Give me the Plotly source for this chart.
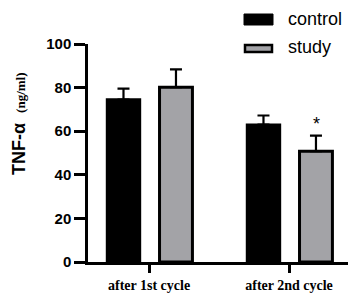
import plotly.graph_objects as go

categories = ["after 1st cycle", "after 2nd cycle"]
control = [74.5, 63.0]
control_err = [5.0, 4.2]
study = [80.2, 50.8]
study_err = [8.2, 7.2]
series_names = ["control", "study"]
y_ticks = [0, 20, 40, 60, 80, 100]

# page offset (default body margin) and plot area in screen pixels: x 88..353, y 44..262
OFF = 8
W, H = 356 - OFF, 298 - OFF
L, T = 88 - OFF, 44 - OFF
PW, PH = 353 - 88, 262 - 44
R, B = W - L - PW, H - T - PH


def px(x):
    return (x - OFF - L) / PW


def py(y):
    return (OFF + T + PH - y) / PH


fig = go.Figure()
fig.add_trace(go.Bar(
    x=categories, y=control, name=series_names[0],
    marker=dict(color="black", line=dict(color="black", width=2.5)),
    error_y=dict(type="data", array=control_err, arrayminus=[0, 0], symmetric=False,
                 color="black", thickness=2.2, width=6),
    width=0.235, offset=-0.30, showlegend=False,
))
fig.add_trace(go.Bar(
    x=categories, y=study, name=series_names[1],
    marker=dict(color="#a3a3a7", line=dict(color="black", width=3)),
    error_y=dict(type="data", array=study_err, arrayminus=[0, 0], symmetric=False,
                 color="black", thickness=2.2, width=6),
    width=0.235, offset=0.075, showlegend=False,
))

# significance marker
fig.add_annotation(x=categories[1], y=study[1] + study_err[1], xshift=27, yshift=12,
                   text="*", showarrow=False, font=dict(size=18, color="black", family="Arial"))

# legend (drawn)
fig.add_shape(type="rect", xref="paper", yref="paper",
              x0=px(244), x1=px(273), y0=py(25), y1=py(14),
              fillcolor="black", line=dict(color="black", width=1))
fig.add_shape(type="rect", xref="paper", yref="paper",
              x0=px(245), x1=px(272), y0=py(52), y1=py(45),
              fillcolor="#a3a3a7", line=dict(color="black", width=2.5))
fig.add_annotation(xref="paper", yref="paper", x=px(286), y=py(19), xanchor="left",
                   yanchor="middle", text=series_names[0], showarrow=False,
                   font=dict(family="Arial", size=18, color="black"))
fig.add_annotation(xref="paper", yref="paper", x=px(286), y=py(47), xanchor="left",
                   yanchor="middle", text=series_names[1], showarrow=False,
                   font=dict(family="Arial", size=18, color="black"))

# y axis title
fig.add_annotation(xref="paper", yref="paper", x=px(19), y=py(124), textangle=-90,
                   xanchor="center", yanchor="middle", showarrow=False,
                   text="<b>TNF-α</b>  <span style='font-size:13px;font-family:Liberation Serif'><b>(ng/ml)</b></span>",
                   font=dict(family="Arial", size=18, color="black"))

fig.update_layout(
    width=W, height=H,
    margin=dict(l=L, r=R, t=T, b=B, autoexpand=False),
    plot_bgcolor="white", paper_bgcolor="white",
    barmode="overlay",
    showlegend=False,
    font=dict(family="Arial", color="black"),
)

fig.update_xaxes(
    type="category", range=[-0.436, 1.457],
    showline=True, linecolor="black", linewidth=2.5,
    ticks="outside", ticklen=8, tickwidth=2.5, tickcolor="black",
    tickfont=dict(family="Liberation Serif", size=14, color="black"),
    tickvals=categories, ticktext=["<b>%s</b>" % c for c in categories],
    showgrid=False, zeroline=False,
)
fig.update_yaxes(
    range=[0, 100], tickvals=y_ticks,
    ticktext=["<b>%d</b>" % v for v in y_ticks],
    showline=True, linecolor="black", linewidth=2.5,
    ticks="outside", ticklen=11, tickwidth=2.5, tickcolor="black",
    tickfont=dict(family="Arial", size=15, color="black"),
    showgrid=False, zeroline=False,
)

fig.write_html("out.html")
